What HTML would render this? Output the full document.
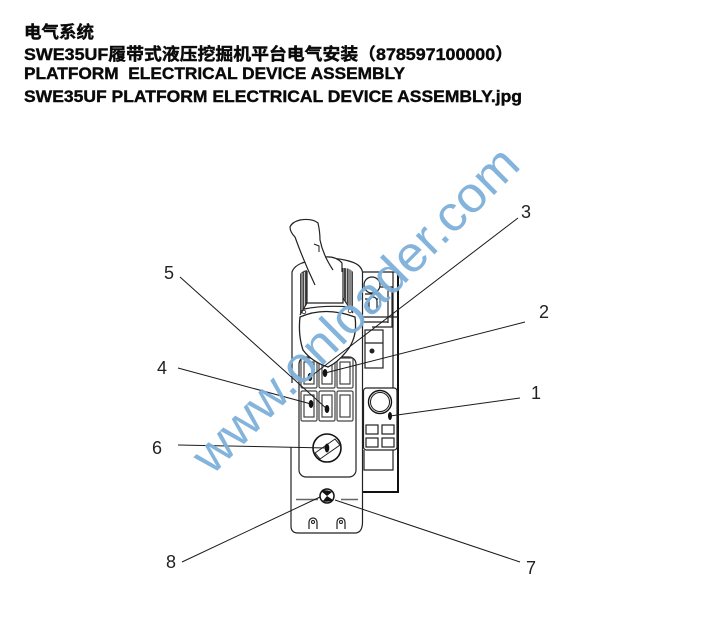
<!DOCTYPE html>
<html>
<head>
<meta charset="utf-8">
<style>
html,body{margin:0;padding:0;background:#fff;width:713px;height:619px;overflow:hidden}
svg{display:block}
.t{font-family:"Liberation Sans","Noto Sans CJK SC",sans-serif;font-weight:700;font-size:17px;fill:#0a0a0a;stroke:#0a0a0a;stroke-width:.4}
.n{font-family:"Liberation Sans",sans-serif;font-size:18px;fill:#222}
.l{fill:none;stroke:#1a1a1a;stroke-width:1}
.m{fill:none;stroke:#222;stroke-width:1.2}
.k{fill:none;stroke:#111;stroke-width:2}
</style>
</head>
<body>
<svg width="713" height="619" viewBox="0 0 713 619" xmlns="http://www.w3.org/2000/svg">
<rect width="713" height="619" fill="#fff"/>
<text class="t" x="24" y="38" textLength="70" lengthAdjust="spacingAndGlyphs">电气系统</text>
<text class="t" x="24" y="60" textLength="489" lengthAdjust="spacingAndGlyphs">SWE35UF履带式液压挖掘机平台电气安装（878597100000）</text>
<text class="t" x="24" y="79" xml:space="preserve" textLength="381" lengthAdjust="spacingAndGlyphs">PLATFORM  ELECTRICAL DEVICE ASSEMBLY</text>
<text class="t" x="24" y="102" textLength="498" lengthAdjust="spacingAndGlyphs">SWE35UF PLATFORM ELECTRICAL DEVICE ASSEMBLY.jpg</text>

<!-- right panel -->
<path class="m" d="M363 272H398"/>
<path class="k" d="M398 272V492H363"/>
<path class="m" d="M393 272V388"/>
<path class="m" d="M364 287H392V327H372"/>
<path class="m" d="M388 290V323"/>
<path class="m" d="M363 317H398M363 322H388"/>
<circle cx="372" cy="285" r="8" fill="#fff" stroke="#222" stroke-width="1.2"/>
<path class="m" d="M365 294H380V303M365 299H378"/>
<rect x="369" y="297" width="8" height="15" rx="4" fill="#fff" stroke="#222" stroke-width="1.2"/>
<rect x="365" y="330" width="18" height="38" class="m" fill="#fff"/>
<path class="m" d="M365 343H383"/>
<circle cx="372" cy="351" r="2.500" fill="#222"/>
<rect x="363.500" y="388" width="33.500" height="62" rx="3" class="m" fill="#fff"/>
<path class="m" d="M364 450V470H393V450"/>
<circle cx="380" cy="402" r="11.500" fill="#fff" stroke="#111" stroke-width="1.4"/>
<circle cx="380" cy="402" r="9.500" class="l"/>
<rect x="366" y="425" width="12" height="9" class="m"/>
<rect x="382" y="425" width="12" height="9" class="m"/>
<rect x="366" y="438" width="12" height="9" class="m"/>
<rect x="382" y="438" width="12" height="9" class="m"/>

<!-- main body -->
<path d="M292 270Q294 266 302 263Q328 254 352 262Q361 265 362.500 272V522Q362.500 532 356 533H298Q291 533 291 526V447H292Z" fill="#fff" stroke="none"/>
<path class="m" d="M292 383V272Q294 266 302 263Q328 254 352 262Q361 265 362.500 272V522Q362.500 532 356 533H298Q291 533 291 526V447"/>
<path d="M296 499.500H318M341 499.500H358" stroke="#666" stroke-width="1.5"/>
<rect x="299" y="357" width="57" height="120" rx="7" class="m" fill="#fff"/>

<!-- switches -->
<g fill="#fff" stroke="#444" stroke-width="1.2">
<rect x="301" y="358" width="16" height="30" rx="1.500"/>
<rect x="319" y="358" width="16" height="30" rx="1.500"/>
<rect x="337" y="358" width="16" height="30" rx="1.500"/>
<rect x="301" y="391" width="16" height="30" rx="1.500"/>
<rect x="319" y="391" width="16" height="30" rx="1.500"/>
<rect x="337" y="391" width="16" height="30" rx="1.500"/>
<rect x="304" y="362" width="10" height="22"/>
<rect x="322" y="362" width="10" height="22"/>
<rect x="340" y="362" width="10" height="22"/>
<rect x="304" y="395" width="10" height="22"/>
<rect x="322" y="395" width="10" height="22"/>
<rect x="340" y="395" width="10" height="22"/>
</g>

<!-- boot -->
<path d="M300 274Q302 271 307 270V303L300 314Z" fill="#444"/>
<path d="M344 268Q350 268 353 272V312L344 298Z" fill="#444"/>
<path d="M302 273V310M304.500 272V307M346.500 268V303M349 268V306M351 270V309" stroke="#fff" stroke-width=".7"/>
<path class="m" d="M307 271V303H343V268"/>
<path class="m" d="M307 303L300 315M343 298L353 313M304 309Q325 305 350 307"/>
<path d="M300 317Q325 306 355 317Q358 338 346 352Q337 363 328 367Q312 362 303 350Q298 335 300 317Z" fill="#fff" stroke="#222" stroke-width="1.3"/>
<circle cx="304" cy="312" r="1.800" fill="#fff" stroke="#222" stroke-width=".8"/>
<circle cx="350" cy="311" r="1.800" fill="#fff" stroke="#222" stroke-width=".8"/>

<!-- grip -->
<path d="M290 227Q292 222 300 220Q312 218 318 223Q320 232 320 240Q322 248 325 257Q336 256 342 263V298H315L315 285Q304 262 295 237Q290 232 290 227Z" fill="#fff" stroke="none"/>
<path class="m" d="M315 285Q304 262 295 237Q290 232 290 227Q292 222 300 220Q312 218 318 223Q320 232 320 240Q323 255 333 270M325 257Q336 256 342 263V272"/>
<path class="l" d="M314 244L319 246L319 252"/>

<ellipse cx="310" cy="377" rx="2.300" ry="4" fill="#111"/>
<ellipse cx="325" cy="373" rx="2.300" ry="4" fill="#111"/>
<ellipse cx="311" cy="404" rx="2.300" ry="4" fill="#111"/>
<ellipse cx="327" cy="409" rx="2.300" ry="4" fill="#111"/>
<ellipse cx="390" cy="416" rx="2" ry="4" fill="#111"/>

<!-- dial -->
<circle cx="327" cy="448" r="14" fill="#fff" stroke="#111" stroke-width="1.600"/>
<path d="M315 453L335 439L340 445L320 459Z" fill="#fff" stroke="#222"/>
<ellipse cx="327" cy="448" rx="2.300" ry="4.500" fill="#111"/>

<!-- small round -->
<circle cx="327" cy="496" r="7" fill="#fff" stroke="#111" stroke-width="1.500"/>
<path d="M321 491Q327 489 332 492L327 496ZM327 496L333 500Q327 503 323 501Z" fill="#111"/>

<!-- bolts -->
<path class="m" d="M309 529V522A4 4 0 0 1 317 522V529"/>
<circle cx="313" cy="522" r="1.500" class="l"/>
<path class="m" d="M337 529V522A4 4 0 0 1 345 522V529"/>
<circle cx="341" cy="522" r="1.500" class="l"/>

<!-- leaders -->
<path class="l" d="M518 218L310 377M525 322L325 373M520 398L390 416M178 368L311 404M180 277L327 409M178 445L327 448M182 562L320 497M520 562L335 500"/>

<g class="n">
<text x="521" y="218">3</text>
<text x="164" y="279">5</text>
<text x="539" y="318">2</text>
<text x="157" y="374">4</text>
<text x="531" y="399">1</text>
<text x="152" y="454">6</text>
<text x="166" y="568">8</text>
<text x="526" y="574">7</text>
</g>

<!-- watermark -->
<text transform="translate(212,476) rotate(-44.900)" x="0" y="0" textLength="438" lengthAdjust="spacingAndGlyphs" font-family="Liberation Sans, sans-serif" font-size="50" fill="#7db0d9" fill-opacity=".95">www.onloader.com</text>
</svg>
</body>
</html>
